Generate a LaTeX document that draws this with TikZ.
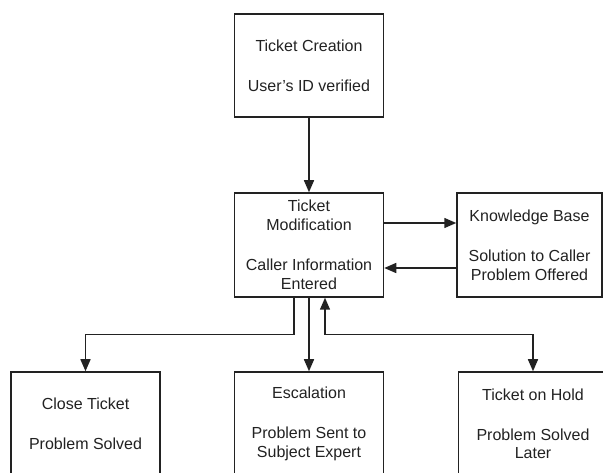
\documentclass[tikz,border=0pt]{standalone}
\usepackage{fontspec}
\setmainfont{Liberation Sans}
\usetikzlibrary{arrows.meta}
\definecolor{ink}{HTML}{222222}
\tikzset{
  box/.style={draw=ink, line width=1.5pt, fill=white, minimum width=149pt, minimum height=104pt,
    inner sep=0pt, align=center, text=ink, font=\fontsize{16}{18.5}\selectfont},
  tip/.style={Triangle[width=10pt,length=12pt]},
  arr/.style={draw=ink, line width=1.5pt, -{Triangle[width=10pt,length=12pt]}},
  darr/.style={draw=ink, line width=1.5pt, {Triangle[width=10pt,length=12pt]}-{Triangle[width=10pt,length=12pt]}}
}
\begin{document}
\begin{tikzpicture}[x=1pt,y=-1pt]
\useasboundingbox[fill=white] (0,0) rectangle (603,473);
\node[box, minimum height=103pt] (top) at (309,65.5) {Ticket Creation\\[21.5pt]User's ID verified};
\node[box] (mid) at (309,245) {Ticket\\Modification\\[22pt]Caller Information\\Entered};
\node[box, minimum width=145pt] (kb) at (529.5,245) {Knowledge Base\\[22pt]Solution to Caller\\Problem Offered};
\node[box] (close) at (85.5,424) {Close Ticket\\[21.5pt]Problem Solved};
\node[box] (esc) at (309,424) {Escalation\\[21.5pt]Problem Sent to\\Subject Expert};
\node[box] (hold) at (533,424) {Ticket on Hold\\[21.5pt]Problem Solved\\Later};
\draw[arr] (top) -- (mid);
\draw[arr] ([yshift=22pt]mid.east) -- ([yshift=22pt]kb.west);
\draw[arr] ([yshift=-23pt]kb.west) -- ([yshift=-23pt]mid.east);
\draw[arr] ([xshift=-15pt]mid.south) -- ++(0,37) -| (close.north);
\draw[arr] (mid) -- (esc);
\draw[darr] ([xshift=16pt]mid.south) -- ++(0,37) -| (hold.north);
\end{tikzpicture}
\end{document}
